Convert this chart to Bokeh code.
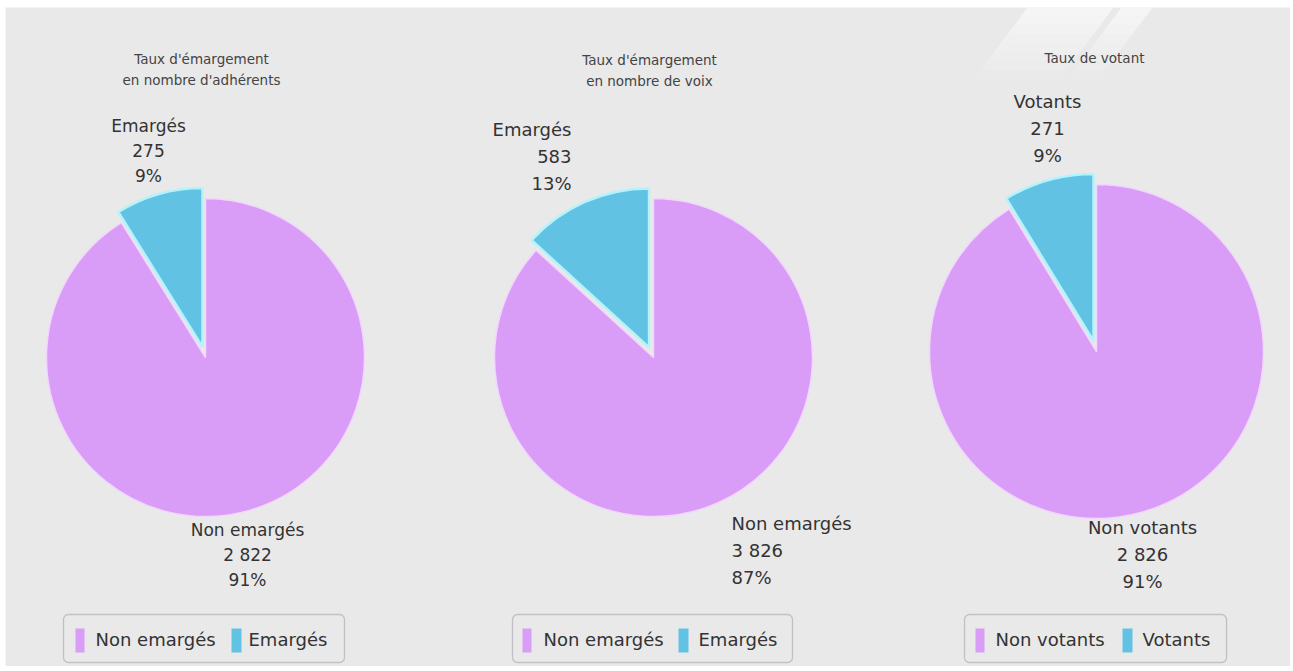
import math
from bokeh.plotting import figure
from bokeh.models import Range1d, BoxAnnotation
from bokeh.embed import file_html
from bokeh.resources import INLINE
from bokeh.core.properties import value

# ---------------- data ----------------
titles = [["Taux d'émargement", "en nombre d'adhérents"],
          ["Taux d'émargement", "en nombre de voix"],
          ["Taux de votant"]]
small_labels = ["Emargés", "Emargés", "Votants"]
big_labels = ["Non emargés", "Non emargés", "Non votants"]
small_values = [275, 583, 271]
big_values = [2822, 3826, 2826]

# ---------------- style / layout ----------------
PINK = "#d99cf7"
BLUE = "#62c2e4"
BG = "#e9e9e9"
TXT = "#333333"
FONT = value("DejaVu Sans")
FIG_W, FIG_H = 1290, 666
LEFT, TOP = 5, 7
PAGE_H = 671


def Y(s):
    return PAGE_H - s


centers = [(205, 357), (653, 357), (1096, 351)]
radii = [159, 159, 167]
explode = 11
title_x = [201, 649, 1094]
title_y0 = [58, 59, 57]
small_x = [148, 571, 1047]
small_align = ["center", "right", "center"]
small_y0 = [125, 129, 101]
big_x = [247, 731, 1142]
big_align = ["center", "left", "center"]
big_y0 = [529, 523, 527]
line_gap = [25, 27, 27]
label_size = ["17px", "18px", "18px"]
leg_box = [(63, 344), (512, 792), (964, 1226)]
leg_pink_x = [75, 522, 975]
leg_t1_x = [95, 543, 995]
leg_blue_x = [231, 678, 1122]
leg_t2_x = [248, 698, 1142]

p = figure(width=FIG_W, height=FIG_H, x_range=Range1d(LEFT, FIG_W),
           y_range=Range1d(Y(FIG_H), Y(TOP)),
           output_backend="svg", toolbar_location=None,
           min_border_left=LEFT, min_border_top=TOP, min_border_right=0, min_border_bottom=0,
           x_axis_type=None, y_axis_type=None)
p.grid.visible = False
p.outline_line_color = None
p.background_fill_color = BG
p.border_fill_color = "white"

# decorative light stripes (top right)
for (x0, x1) in [(1027, 1113), (1121, 1152)]:
    n = 8
    for k in range(n):
        ya, yb = TOP + 9 * k, TOP + 9 * (k + 1)
        sa, sb = 0.75 * (ya - TOP), 0.75 * (yb - TOP)
        p.patch([x0 - sa, x1 - sa, x1 - sb, x0 - sb], [Y(ya), Y(ya), Y(yb), Y(yb)],
                fill_color="white", fill_alpha=0.55 * (1 - k / n), line_color=None)


def fmt(v):
    return f"{v:,}".replace(",", " ")


for i in range(3):
    cx, cy = centers[i]
    r = radii[i]
    total = small_values[i] + big_values[i]
    frac = small_values[i] / total
    a0 = math.pi / 2
    a1 = a0 + 2 * math.pi * frac
    mid = (a0 + a1) / 2
    # big (pink) slice
    p.wedge(x=[cx], y=[Y(cy)], radius=r, start_angle=a1, end_angle=a0 + 2 * math.pi,
            fill_color=PINK, line_color="#f2d6fc", line_width=1.5)
    # small (blue) slice, exploded
    ex, ey = cx + explode * math.cos(mid), Y(cy) + explode * math.sin(mid)
    p.wedge(x=[ex], y=[ey], radius=r, start_angle=a0, end_angle=a1,
            fill_color=BLUE, line_color="#b3f3fb", line_width=2.5)

    # title
    tl = titles[i]
    p.text(x=[title_x[i]] * len(tl), y=[Y(title_y0[i] + 21 * k) for k in range(len(tl))],
           text=tl, text_align="center", text_baseline="middle",
           text_font=FONT, text_font_size="13.5px", text_color="#444444")

    pct_s = round(100 * small_values[i] / total)
    pct_b = round(100 * big_values[i] / total)
    s_lines = [small_labels[i], fmt(small_values[i]), f"{pct_s}%"]
    b_lines = [big_labels[i], fmt(big_values[i]), f"{pct_b}%"]
    g = line_gap[i]
    p.text(x=[small_x[i]] * 3, y=[Y(small_y0[i] + g * k) for k in range(3)], text=s_lines,
           text_align=small_align[i], text_baseline="middle", text_font=FONT,
           text_font_size=label_size[i], text_color=TXT)
    p.text(x=[big_x[i]] * 3, y=[Y(big_y0[i] + g * k) for k in range(3)], text=b_lines,
           text_align=big_align[i], text_baseline="middle", text_font=FONT,
           text_font_size=label_size[i], text_color=TXT)

    # legend
    bl, br = leg_box[i]
    p.add_layout(BoxAnnotation(left=bl, right=br, top=Y(614), bottom=Y(662),
                               fill_alpha=0, line_color="#5d6b78", line_width=1.3,
                               border_radius=5))
    p.quad(left=[leg_pink_x[i], leg_blue_x[i]], right=[leg_pink_x[i] + 9, leg_blue_x[i] + 10],
           top=[Y(628)] * 2, bottom=[Y(652)] * 2, fill_color=[PINK, BLUE], line_color=None)
    p.text(x=[leg_t1_x[i], leg_t2_x[i]], y=[Y(639)] * 2, text=[big_labels[i], small_labels[i]],
           text_align="left", text_baseline="middle", text_font=FONT,
           text_font_size="18px", text_color=TXT)

open("out.html", "w").write(file_html(p, INLINE))
